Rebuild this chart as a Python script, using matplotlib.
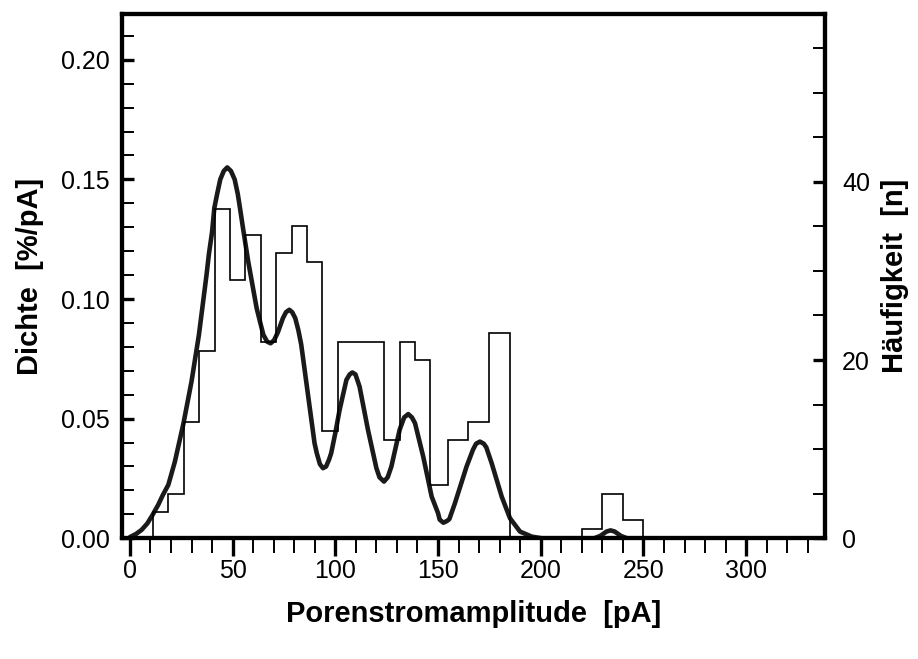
import matplotlib
matplotlib.use("Agg")
import matplotlib.pyplot as plt
from matplotlib.ticker import MultipleLocator, FormatStrFormatter

# Histogram (counts, right axis) - bin edges and counts
hist_edges = [11.25, 18.75, 26.25, 33.75, 41.25, 48.75, 56.25, 63.75, 71.25,
              78.75, 86.25, 93.75, 101.25, 108.75, 116.25, 123.75, 131.25,
              138.75, 146.25, 154.7, 164.7, 175.0, 185.0, 220.0, 230.0, 240.0, 250.0]
hist_counts = [3, 5, 13, 21, 37, 29, 34, 22, 32, 35, 31, 12, 22, 22, 22, 11,
               22, 20, 6, 11, 13, 23, 0, 1, 5, 2]

# Density curve (left axis)
dens_x = [0, 3, 5.7, 8.5, 11, 13.8, 16, 18.7, 21.9, 26.1, 30, 33.6, 37.3, 38.5,
          40, 41.1, 42.5, 44, 45.7, 47.4, 49.2, 51, 52.5, 53.6, 55, 57.6, 61.7,
          63.5, 65, 66.8, 68.5, 70.2, 72, 74.5, 76, 77.6, 79, 80.5, 82, 83.4, 86.7,
          89.9, 91, 92.5, 94, 95.5, 97, 98, 100, 102.1, 105.4, 107, 108.3, 109.8,
          111.8, 115.9, 120, 121.5, 123.7, 125.5, 127.3, 131.3, 133.5, 135.5,
          137.3, 138.8, 142.8, 146.9, 150, 150.8, 152.6, 154.3, 155.5, 158.2,
          163.9, 167, 168.5, 170.4, 172.3, 173.5, 176.1, 181, 185, 189.9, 195.6,
          200.5, 226, 229, 232, 234, 236, 239, 242]
dens_y = [0.0005, 0.0018, 0.0035, 0.0062, 0.0097, 0.014, 0.018, 0.0223, 0.032,
          0.0481, 0.0655, 0.085, 0.110, 0.119, 0.128, 0.138, 0.144, 0.150, 0.1535,
          0.155, 0.1535, 0.150, 0.144, 0.138, 0.130, 0.1157, 0.0962, 0.090, 0.085,
          0.0822, 0.0815, 0.0828, 0.086, 0.092, 0.0945, 0.0955, 0.0945, 0.092,
          0.087, 0.081, 0.060, 0.0397, 0.0355, 0.031, 0.0293, 0.0300, 0.033,
          0.0356, 0.044, 0.0537, 0.0662, 0.0685, 0.0693, 0.0685, 0.0634, 0.0453,
          0.0293, 0.0255, 0.0237, 0.0255, 0.030, 0.0453, 0.0505, 0.0519, 0.0505,
          0.0481, 0.0341, 0.0174, 0.0105, 0.0078, 0.0065, 0.0072, 0.008, 0.0146,
          0.030, 0.037, 0.0395, 0.0404, 0.0395, 0.038, 0.0314, 0.0174, 0.0084,
          0.0028, 0.0007, 0.0, 0.0, 0.001, 0.0028, 0.0033, 0.0028, 0.001, 0.0]

plt.rcParams['font.family'] = ['Liberation Sans', 'DejaVu Sans']

fig = plt.figure(figsize=(9.18, 6.59), dpi=100)
ax = fig.add_axes([0.1332, 0.1832, 0.7658, 0.7951])
ax2 = ax.twinx()

ax.plot(dens_x, dens_y, color='#1a1a1a', lw=3.3, solid_joinstyle='round',
        solid_capstyle='round', zorder=3)
ax2.stairs(hist_counts, hist_edges, color='black', lw=1.2, zorder=2)

ax.set_xlim(-3.7, 338.5)
ax.set_ylim(0, 0.219)
ax2.set_ylim(0, 58.8)

# ticks
ax.xaxis.set_major_locator(MultipleLocator(50))
ax.xaxis.set_minor_locator(MultipleLocator(10))
ax.yaxis.set_major_locator(MultipleLocator(0.05))
ax.yaxis.set_minor_locator(MultipleLocator(0.01))
ax.yaxis.set_major_formatter(FormatStrFormatter('%.2f'))
ax2.yaxis.set_major_locator(MultipleLocator(20))
ax2.yaxis.set_minor_locator(MultipleLocator(5))

ax.tick_params(axis='x', which='major', direction='out', length=13, width=2.4,
               labelsize=18, pad=2)
ax.tick_params(axis='x', which='minor', direction='out', length=10.5, width=1.4)
ax.tick_params(axis='y', which='major', direction='in', length=8.5, width=2.4,
               labelsize=18, pad=9)
ax.tick_params(axis='y', which='minor', direction='in', length=8.5, width=1.4)
ax2.tick_params(axis='y', which='major', direction='in', length=8.5, width=2.4,
                labelsize=18, pad=12)
ax2.tick_params(axis='y', which='minor', direction='in', length=8.5, width=1.4)

for a in (ax, ax2):
    for s in a.spines.values():
        s.set_linewidth(3.0)

ax.set_xlabel('Porenstromamplitude  [pA]', fontsize=21, fontweight='bold', labelpad=12)
ax.set_ylabel('Dichte  [%/pA]', fontsize=21, fontweight='bold', labelpad=12)
ax2.set_ylabel('Häufigkeit  [n]', fontsize=21, fontweight='bold', labelpad=8)

fig.savefig('out.png', dpi=100)
